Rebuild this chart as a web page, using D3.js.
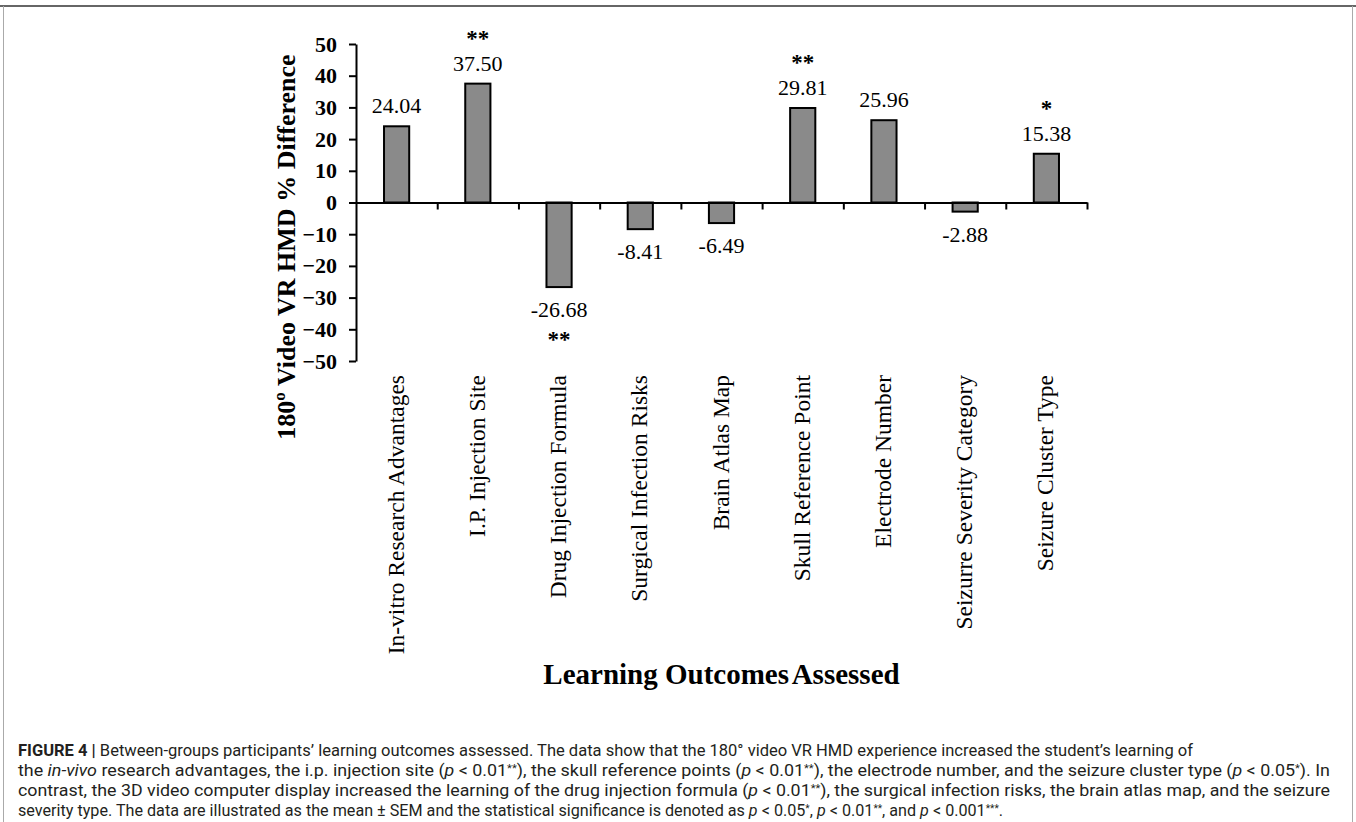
<!DOCTYPE html>
<html>
<head>
<meta charset="utf-8">
<script src="https://cdn.jsdelivr.net/npm/d3@7"></script>
<style>
  body { margin: 0; background: #fff; }
  svg { display: block; }
</style>
</head>
<body>
<div id="fig"></div>
<script>
// data
var outcomes = ["In-vitro Research Advantages", "I.P. Injection Site", "Drug Injection Formula",
    "Surgical Infection Risks", "Brain Atlas Map", "Skull Reference Point",
    "Electrode Number", "Seizurre Severity Category", "Seizure Cluster Type"];
var pct_diff = [24.04, 37.50, -26.68, -8.41, -6.49, 29.81, 25.96, -2.88, 15.38];
var signif = ["", "**", "**", "", "", "**", "", "", "*"];
var y_ticks = [50, 40, 30, 20, 10, 0, -10, -20, -30, -40, -50];

// page size and plot box
var W = 1356, H = 822;
var margin = {top: 44, left: 356};
var width = 731;
var height = 317;

var svg = d3.select("#fig")
    .append("svg")
    .attr("width", W)
    .attr("height", H);

// frame round the figure
svg.append("line").attr("x1", 0).attr("x2", W).attr("y1", 6).attr("y2", 6)
    .attr("stroke", "#666").attr("stroke-width", 2);
svg.append("line").attr("x1", 3.5).attr("x2", 3.5).attr("y1", 6).attr("y2", H)
    .attr("stroke", "#aaa").attr("stroke-width", 1);
svg.append("line").attr("x1", 1352.5).attr("x2", 1352.5).attr("y1", 6).attr("y2", H)
    .attr("stroke", "#aaa").attr("stroke-width", 1);

var g = svg.append("g")
    .attr("transform", "translate(" + margin.left + "," + margin.top + ")");

var serif = "'Liberation Serif', 'Times New Roman', serif";

// scales
var x = d3.scaleBand()
    .domain(outcomes)
    .range([0, width])
    .paddingInner(0.69)
    .paddingOuter(0.345);

var x_edges = d3.scaleLinear()
    .domain([0, outcomes.length])
    .range([0, width]);

var y = d3.scaleLinear()
    .domain([-50, 50])
    .range([height, 0]);

// bars
g.selectAll("rect.bar")
    .data(pct_diff)
    .join("rect")
        .attr("class", "bar")
        .attr("x", function (d, i) { return x(outcomes[i]); })
        .attr("width", x.bandwidth())
        .attr("y", function (d) { return y(Math.max(0, d)); })
        .attr("height", function (d) { return Math.abs(y(d) - y(0)); })
        .attr("fill", "#8a8a8a")
        .attr("stroke", "#000")
        .attr("stroke-width", 2);

// y axis
var yAxis = g.append("g")
    .call(d3.axisLeft(y).tickValues(y_ticks).tickSize(7).tickSizeOuter(0).tickPadding(12));
yAxis.select(".domain").attr("stroke-width", 2);
yAxis.selectAll(".tick line").attr("stroke-width", 2);
yAxis.selectAll("text")
    .style("font-family", serif)
    .style("font-size", "22px")
    .style("font-weight", "bold")
    .attr("fill", "#000");

// x axis on the zero line, ticks at the category edges
var xAxis = g.append("g")
    .attr("transform", "translate(0," + y(0) + ")")
    .call(d3.axisBottom(x_edges).tickValues(d3.range(1, outcomes.length + 1)).tickFormat("").tickSize(7).tickSizeOuter(0));
xAxis.select(".domain").attr("stroke-width", 2);
xAxis.selectAll(".tick line").attr("stroke-width", 2);

// value labels
g.selectAll("text.val")
    .data(pct_diff)
    .join("text")
        .attr("class", "val")
        .attr("x", function (d, i) { return x(outcomes[i]) + x.bandwidth() / 2; })
        .attr("y", function (d) { return d >= 0 ? y(d) - 13 : y(d) + 30; })
        .attr("text-anchor", "middle")
        .style("font-family", serif)
        .style("font-size", "22px")
        .text(function (d) { return d.toFixed(2); });

// significance stars
g.selectAll("text.star")
    .data(pct_diff)
    .join("text")
        .attr("class", "star")
        .attr("x", function (d, i) { return x(outcomes[i]) + x.bandwidth() / 2; })
        .attr("y", function (d) { return d >= 0 ? y(d) - 13 - 25 : y(d) + 30 + 30; })
        .attr("text-anchor", "middle")
        .style("font-family", serif)
        .style("font-size", "23px")
        .style("font-weight", "bold")
        .text(function (d, i) { return signif[i]; });

// category labels, rotated
g.selectAll("text.cat")
    .data(outcomes)
    .join("text")
        .attr("class", "cat")
        .attr("transform", function (d) {
            return "translate(" + (x(d) + x.bandwidth() / 2 + 7) + "," + (height + 14) + ") rotate(-90)";
        })
        .attr("text-anchor", "end")
        .style("font-family", serif)
        .style("font-size", "23.5px")
        .text(function (d) { return d; });

// axis titles
g.append("text")
    .attr("transform", "translate(-61,203) rotate(-90)")
    .attr("text-anchor", "middle")
    .style("font-family", serif)
    .style("font-size", "26px")
    .style("font-weight", "bold")
    .text("180º Video VR HMD % Difference");

var xt = g.append("text")
    .attr("x", width / 2)
    .attr("y", 640)
    .attr("text-anchor", "middle")
    .style("font-family", serif)
    .style("font-size", "29px")
    .style("font-weight", "bold")
    .text("Learning Outcomes");
xt.append("tspan")
    .style("word-spacing", "-3px")
    .text(" Assessed");

// caption, one text per line
var cap_lines = [
    [["b", "FIGURE 4 | "], ["n", "Between-groups participants\u2019 learning outcomes assessed. The data show that the 180\u00b0 video VR HMD experience increased the student\u2019s learning of"]],
    [["n", "the "], ["i", "in-vivo"], ["n", " research advantages, the i.p. injection site ("], ["i", "p"], ["n", " < 0.01"], ["s", "**"], ["n", "), the skull reference points ("], ["i", "p"], ["n", " < 0.01"], ["s", "**"], ["n", "), the electrode number, and the seizure cluster type ("], ["i", "p"], ["n", " < 0.05"], ["s", "*"], ["n", "). In"]],
    [["n", "contrast, the 3D video computer display increased the learning of the drug injection formula ("], ["i", "p"], ["n", " < 0.01"], ["s", "**"], ["n", "), the surgical infection risks, the brain atlas map, and the seizure"]],
    [["n", "severity type. The data are illustrated as the mean \u00b1 SEM and the statistical significance is denoted as "], ["i", "p"], ["n", " < 0.05"], ["s", "*"], ["n", ", "], ["i", "p"], ["n", " < 0.01"], ["s", "**"], ["n", ", and "], ["i", "p"], ["n", " < 0.001"], ["s", "***"], ["n", "."]]
];
var cap_widths = [1175, 1312, 1312, 985];
var cap_base = [756, 776, 796, 816];

cap_lines.forEach(function (parts, li) {
    var t = svg.append("text")
        .attr("x", 18)
        .attr("y", cap_base[li])
        .attr("textLength", cap_widths[li])
        .attr("lengthAdjust", "spacingAndGlyphs")
        .style("font-family", "'Liberation Sans Narrow', 'Roboto', 'Liberation Sans', sans-serif")
        .style("font-size", "16px")
        .attr("fill", "#231f20");
    parts.forEach(function (p) {
        var s = t.append("tspan").text(p[1]);
        if (p[0] == "b") s.style("font-weight", "bold");
        if (p[0] == "i") s.style("font-style", "italic");
        if (p[0] == "s") s.style("font-size", "10px").attr("dy", -4.5).attr("class", "sup");
    });
    // put the baseline back after superscripts
    t.selectAll("tspan").each(function (d, k, nodes) {
        if (k > 0 && d3.select(nodes[k - 1]).classed("sup")) d3.select(this).attr("dy", 4.5);
    });
});
</script>
</body>
</html>
